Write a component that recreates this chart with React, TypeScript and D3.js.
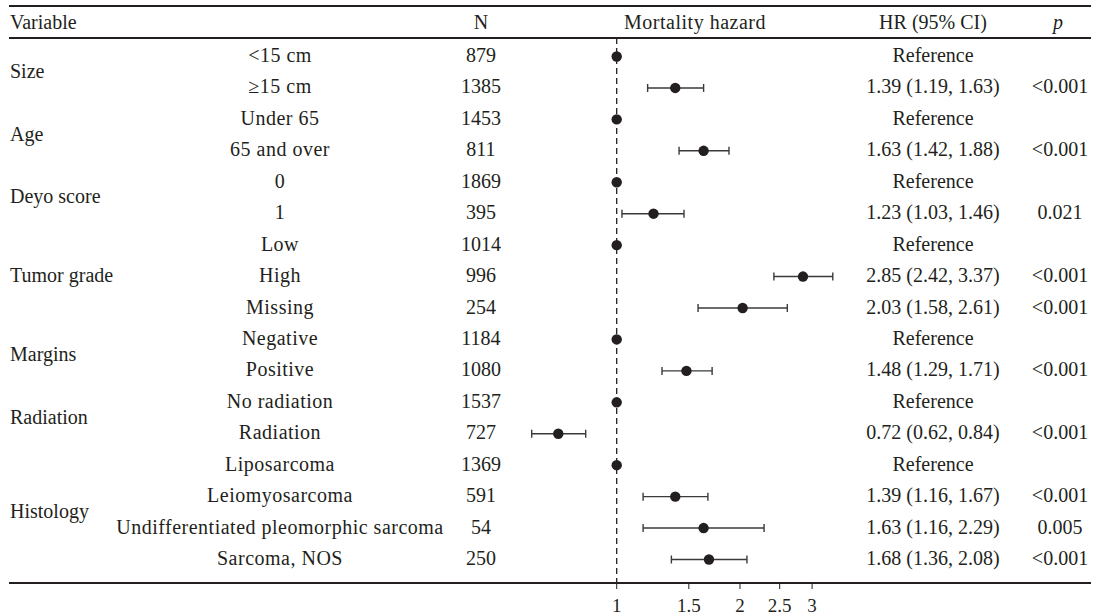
import React from 'react'
import * as d3 from 'd3'

// Table data
const groups = ['Size', 'Age', 'Deyo score', 'Tumor grade', 'Margins', 'Radiation', 'Histology']
const groupSizes = [2, 2, 2, 3, 2, 2, 4]
const subgroups = [
  '<15 cm', '≥15 cm',
  'Under 65', '65 and over',
  '0', '1',
  'Low', 'High', 'Missing',
  'Negative', 'Positive',
  'No radiation', 'Radiation',
  'Liposarcoma', 'Leiomyosarcoma', 'Undifferentiated pleomorphic sarcoma', 'Sarcoma, NOS',
]
const counts = [879, 1385, 1453, 811, 1869, 395, 1014, 996, 254, 1184, 1080, 1537, 727, 1369, 591, 54, 250]
const hazard = [1, 1.39, 1, 1.63, 1, 1.23, 1, 2.85, 2.03, 1, 1.48, 1, 0.72, 1, 1.39, 1.63, 1.68]
const lower = [null, 1.19, null, 1.42, null, 1.03, null, 2.42, 1.58, null, 1.29, null, 0.62, null, 1.16, 1.16, 1.36]
const upper = [null, 1.63, null, 1.88, null, 1.46, null, 3.37, 2.61, null, 1.71, null, 0.84, null, 1.67, 2.29, 2.08]
const pValues = ['', '<0.001', '', '<0.001', '', '0.021', '', '<0.001', '<0.001', '', '<0.001', '', '<0.001', '', '<0.001', '0.005', '<0.001']
const xTicks = [1, 1.5, 2, 2.5, 3]

const W = 1094
const H = 616
const ink = '#231f20'
const font = '"Liberation Serif", "DejaVu Serif", serif'

const fmt = (v: number) => v.toFixed(2)

const App: React.FC = () => {
  const x = d3.scaleLog().domain([1, 3]).range([616.7, 812.1])
  const y = d3.scalePoint<number>()
    .domain(d3.range(subgroups.length))
    .range([55, 558])

  // group label positions (middle of their rows)
  let start = 0
  const groupPos = groups.map((g, i) => {
    const first = start
    const last = start + groupSizes[i] - 1
    start += groupSizes[i]
    return { label: g, y: ((y(first) as number) + (y(last) as number)) / 2 }
  })

  const top = 6
  const header = 38
  const bottom = 583
  const left = 9
  const right = 1091

  const colSub = 280
  const colN = 481
  const colHR = 933
  const colP = 1060

  return (
    <svg width={W} height={H} style={{ position: 'absolute', left: 0, top: 0, background: '#fff' }}
      fontFamily={font} fontSize={20} fill={ink}>
      {/* rules */}
      <line x1={left} x2={right} y1={top} y2={top} stroke={ink} strokeWidth={2.2} />
      <line x1={left} x2={right} y1={header} y2={header} stroke={ink} strokeWidth={2.2} />
      <line x1={left} x2={right} y1={bottom} y2={bottom} stroke={ink} strokeWidth={2.2} />

      {/* headers */}
      <g dominantBaseline="central">
        <text x={10} y={22}>Variable</text>
        <text x={colN} y={22} textAnchor="middle">N</text>
        <text x={695} y={22} textAnchor="middle" letterSpacing={0.5}>Mortality hazard</text>
        <text x={colHR} y={22} textAnchor="middle">HR (95% CI)</text>
        <text x={colP - 2} y={22} textAnchor="middle" fontStyle="italic">p</text>
      </g>

      {/* group labels */}
      <g dominantBaseline="central">
        {groupPos.map(g => (
          <text key={g.label} x={10} y={g.y}>{g.label}</text>
        ))}
      </g>

      {/* rows */}
      <g dominantBaseline="central">
        {subgroups.map((s, i) => {
          const yy = y(i) as number
          return (
            <g key={i}>
              <text x={colSub} y={yy} textAnchor="middle" letterSpacing={0.5}>{s}</text>
              <text x={colN} y={yy} textAnchor="middle">{counts[i]}</text>
              <text x={colHR} y={yy} textAnchor="middle">
                {lower[i] === null ? 'Reference' : `${fmt(hazard[i])} (${fmt(lower[i] as number)}, ${fmt(upper[i] as number)})`}
              </text>
              <text x={colP} y={yy} textAnchor="middle">{pValues[i]}</text>
            </g>
          )
        })}
      </g>

      {/* reference line */}
      <line x1={x(1)} x2={x(1)} y1={header} y2={bottom} stroke={ink} strokeWidth={1.3} strokeDasharray="6,4" />

      {/* estimates */}
      {hazard.map((h, i) => {
        const yy = (y(i) as number) + 1.5
        const lo = lower[i]
        const hi = upper[i]
        return (
          <g key={i}>
            {lo !== null && hi !== null && (
              <g stroke="#3a3a3a" strokeWidth={1.4}>
                <line x1={x(lo)} x2={x(hi)} y1={yy} y2={yy} />
                <line x1={x(lo)} x2={x(lo)} y1={yy - 4} y2={yy + 4} />
                <line x1={x(hi)} x2={x(hi)} y1={yy - 4} y2={yy + 4} />
              </g>
            )}
            <circle cx={x(h)} cy={yy} r={5.2} fill={ink} />
          </g>
        )
      })}

      {/* x axis ticks */}
      {xTicks.map(t => (
        <g key={t}>
          <line x1={x(t)} x2={x(t)} y1={bottom} y2={bottom + 6} stroke={ink} strokeWidth={1} />
          <text x={x(t)} y={605} textAnchor="middle" dominantBaseline="central" fontSize={19}>{t}</text>
        </g>
      ))}
    </svg>
  )
}

export default App
